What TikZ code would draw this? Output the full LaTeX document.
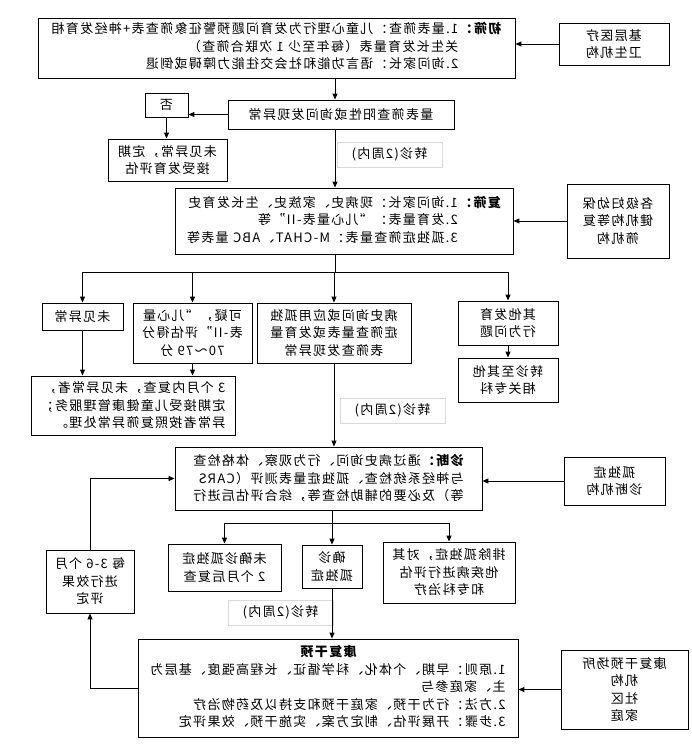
\documentclass[tikz,border=0pt]{standalone}
\usepackage{fontspec}
\setmainfont{Noto Sans CJK SC}[LetterSpace=10]
\usetikzlibrary{arrows.meta,positioning}
\tikzset{>/.tip={Triangle[length=6pt,width=5pt]}}

\begin{document}
\begin{tikzpicture}[x=1pt,y=-1pt,xscale=-1,line width=0.9pt,
        every node/.append style={transform shape},
        font=\fontsize{13}{17.5}\selectfont,
        box/.style={draw,inner sep=0pt,align=center},
        tag/.style={draw=black!15,inner sep=0pt,minimum width=105pt,minimum height=25pt}]
        \useasboundingbox (0,0) rectangle (692,752);
        % screening
        \node(screen)[box,minimum width=477pt,minimum height=60pt] at (415.5,48){\textbf{初筛：}\begin{tabular}[t]{@{}l@{}}1.量表筛查：儿童心理行为发育问题预警征象筛查表+神经发育相\\关生长发育量表（每年至少 1 次联合筛查）\\2.询问家长：语言功能和社会交往能力障碍或倒退\end{tabular}};
        \node(primary)[box,minimum width=110pt,minimum height=42pt] at (78,44){基层医疗\\卫生机构};
        \node(positive)[box,minimum width=226pt,minimum height=29pt] at (351,114.5){量表筛查阳性或询问发现异常};
        \node(no)[box,minimum width=43pt,minimum height=24pt] at (525.5,105){否};
        \node(normal)[box,minimum width=119pt,minimum height=42pt] at (524.5,160){未见异常，定期\\接受发育评估};
        \node(tag1)[tag] at (302.5,154.5){转诊(2周内)};
        % rescreening
        \node(rescreen)[box,minimum width=338pt,minimum height=66pt] at (348,221){\textbf{复筛：}\begin{tabular}[t]{@{}l@{}}1.询问家长：现病史、家族史、生长发育史\\2.发育量表：“儿心量表-II”等\\3.孤独症筛查量表：M-CHAT、ABC 量表等\end{tabular}};
        \node(mch)[box,minimum width=102pt,minimum height=74pt] at (74,221){各级妇幼保\\健机构等复\\筛机构};
        \node(ok)[box,minimum width=81pt,minimum height=27pt] at (609.5,316.5){未见异常};
        \node(doubt)[box,minimum width=119pt,minimum height=60pt] at (499.5,333){可疑，“儿心量\\表-II”评估得分\\70～79 分};
        \node(abn)[box,minimum width=154pt,minimum height=60pt] at (358,333){病史询问或应用孤独\\症筛查量表或发育量\\表筛查发现异常};
        \node(other)[box,minimum width=100pt,minimum height=44pt] at (184,323){其他发育\\行为问题};
        \node(spec)[box,minimum width=100pt,minimum height=44pt] at (184,380){转诊至其他\\相关专科};
        \node(recheck)[box,align=left,minimum width=204pt,minimum height=59pt] at (559,405.5){3 个月内复查，未见异常者，\\定期接受儿童健康管理服务；\\异常者按照复筛异常处理。};
        \node(tag2)[tag] at (299.5,410.5){转诊(2周内)};
        % diagnosis
        \node(diag)[box,align=left,minimum width=307pt,minimum height=63pt] at (363.5,478.5){\textbf{诊断：}通过病史询问、行为观察、体格检查\\与神经系统检查、孤独症量表测评（CARS\\等）及必要的辅助检查等，综合评估后进行};
        \node(asdorg)[box,minimum width=101pt,minimum height=48pt] at (77.5,481){孤独症\\诊断机构};
        \node(undx)[box,minimum width=113pt,minimum height=47pt] at (467.5,567.5){未确诊孤独症\\2 个月后复查};
        \node(dx)[box,minimum width=60pt,minimum height=43pt] at (360,566.5){确诊\\孤独症};
        \node(excl)[box,minimum width=132pt,minimum height=61pt] at (243,572.5){排除孤独症，对其\\他疾病进行评估\\和专科治疗};
        \node(eval)[box,minimum width=88pt,minimum height=63pt] at (602,581.5){每 3-6 个月\\进行效果\\评定};
        \node(tag3)[tag] at (411.5,612.5){转诊(2周内)};
        % rehabilitation
        \node(rehab)[box,minimum width=380pt,minimum height=98pt] at (364,688){\begin{tabular}{@{}l@{}}\multicolumn{1}{@{}c@{}}{\textbf{康复干预}}\\1.原则：早期、个体化、科学循证、长程高强度、基层为\\主、家庭参与\\2.方法：行为干预、家庭干预和支持以及药物治疗\\3.步骤：开展评估、制定方案、实施干预、效果评定\end{tabular}};
        \node(place)[box,minimum width=127pt,minimum height=79pt] at (67.5,689.5){康复干预场所\\机构\\社区\\家庭};
        \coordinate(trunk) at (357,0);
        \coordinate(fork1) at (357,272);
        \coordinate(fork2) at (360,523);
        \draw[->] (screen.south -| trunk) -- (positive.north -| trunk);
        \draw[->] (primary.east) -- (primary.east -| screen.west);
        \draw[->] (positive.east) -- (positive.east -| no.west);
        \draw[->] (no.south) -- (no.south |- normal.north);
        \draw[->] (positive.south -| trunk) -- (rescreen.north -| trunk);
        \draw[->] (mch.east) -- (rescreen.west);
        \draw (rescreen.south -| trunk) -- (fork1);
        \draw (ok.north |- fork1) -- (other.north |- fork1);
        \foreach \n in {ok,doubt,abn,other}
          \draw[->] (\n.north |- fork1) -- (\n.north);
        \draw[->] (other) -- (spec);
        \draw[->] (ok.south) -- (ok.south |- recheck.north);
        \draw[->] (doubt.south) -- (doubt.south |- recheck.north);
        \draw[->] (abn.south) -- (abn.south |- diag.north);
        \draw[->] (asdorg.east) -- (asdorg.east -| diag.west);
        \draw (diag.south -| fork2) -- (fork2);
        \draw (undx.north |- fork2) -- (excl.north |- fork2);
        \foreach \n in {undx,dx,excl}
          \draw[->] (\n.north |- fork2) -- (\n.north);
        \draw[->] (dx.south) -- (dx.south |- rehab.north);
        \draw[->] (place.east) -- (place.east -| rehab.west);
        \draw[->] (rehab.east) -| (eval.south);
        \draw[->] (eval.north) |- (diag.east);
      \end{tikzpicture}
\end{document}
